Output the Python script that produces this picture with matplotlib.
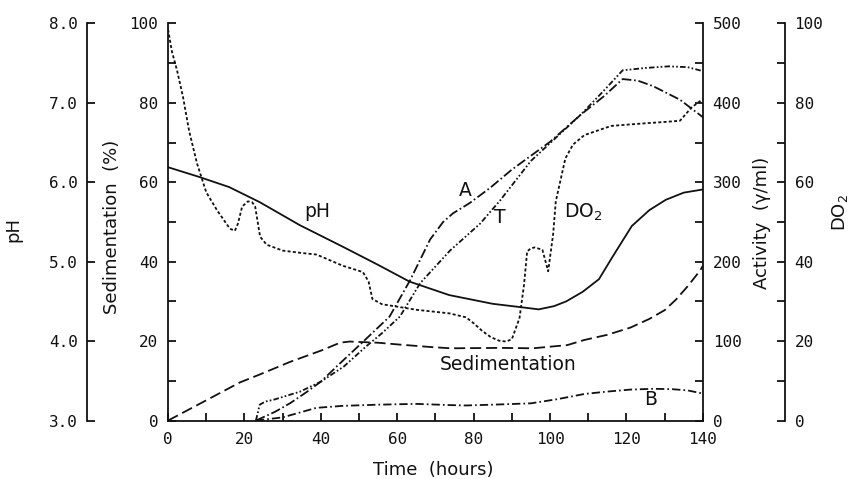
import matplotlib

matplotlib.use("Agg")
import matplotlib.pyplot as plt
from matplotlib.ticker import MultipleLocator, FormatStrFormatter


# time (hours) and values
PH_TIME = [0, 8, 16, 24, 34.5, 45.7, 55, 63.2, 73.6, 85, 93.7, 97, 101, 104.2,
           108.5, 112.8, 116.2, 121.4, 126, 130.3, 135, 140]
PH_VALUE = [6.19, 6.07, 5.94, 5.75, 5.46, 5.19, 4.96, 4.75, 4.58, 4.47, 4.42,
            4.40, 4.44, 4.50, 4.62, 4.78, 5.05, 5.45, 5.65, 5.78, 5.87, 5.91]

SED_TIME = [0, 10, 18.8, 24, 32, 40, 45, 47.5, 55, 61, 69, 74, 87, 95.5, 104.5,
            109, 115, 121, 126, 130, 133, 136, 139.3, 140]
SED_VALUE = [0, 5.1, 9.6, 11.6, 14.8, 17.6, 19.6, 19.9, 19.6, 19.1, 18.5, 18.2,
             18.3, 18.2, 19.0, 20.3, 21.6, 23.4, 25.6, 27.8, 30.5, 33.8, 37.8, 39.0]

DO2_TIME = [0, 1, 2.4, 3.9, 5.5, 7.6, 10, 12.8, 16.2, 17.5, 18.3, 19.4, 20.9,
            22.0, 22.8, 24.1, 25.8, 30, 35, 38.9, 45.7, 51, 52.5, 53.5, 56, 65,
            73.6, 78, 80, 82.2, 84.5, 86.7, 88.5, 90, 92, 93.2, 94, 95, 96, 98,
            99.5, 100.8, 101.5, 104, 106, 109, 116, 124, 130, 134, 137, 140]
DO2_VALUE = [98.5, 93, 88, 81.6, 73, 64.7, 57.5, 53, 48.3, 47.8, 49.6, 53.9,
             55.2, 55.0, 53.9, 46.3, 44.3, 42.8, 42.2, 41.8, 39.0, 37.4, 35,
             30.6, 29.3, 27.9, 27.0, 26.0, 24.5, 22.6, 21.0, 20.1, 19.9, 20.5,
             25.8, 34.3, 42.6, 43.4, 43.6, 43.0, 37.6, 46.9, 55.2, 66, 69.5,
             71.9, 74.2, 74.8, 75.2, 75.5, 78.8, 81]

A_TIME = [23, 28, 32, 36, 40, 45, 51, 58, 63.4, 68.6, 72, 74.6, 79, 84.3, 90,
          100, 108, 114, 119, 123, 127, 134, 140]
A_VALUE = [0, 11, 22, 35, 49, 72, 99, 131, 177, 228, 250, 261, 274, 293, 316,
           351, 385, 408, 430, 428, 421, 404, 382]

T_TIME = [23, 24, 25.5, 27.5, 34.6, 40, 46, 52, 56, 60.7, 66, 73.8, 81.7, 86.9,
          90.3, 95, 108, 114, 119, 125, 131, 136, 140]
T_VALUE = [0, 20, 24, 26, 36.5, 49, 68, 94, 110, 131, 173, 214, 248, 277, 298,
           327, 385, 415, 441, 444, 446, 445, 440]

B_TIME = [23, 30, 38.8, 45.7, 55, 65, 73.6, 78, 85, 95, 102, 109, 115, 121,
          127, 132, 136, 140]
B_VALUE = [0, 4, 16, 18.5, 20, 21, 19.5, 19, 20, 21.7, 27, 33.5, 36.5, 39,
           40, 39.5, 38, 34]

# curve labels, in time / sedimentation coordinates
CURVE_LABELS = [
    ("pH", 39, 52.6),
    ("A", 77.7, 58.0),
    ("T", 86.9, 51.1),
    ("DO$_2$", 108.6, 52.5),
    ("Sedimentation", 89, 14.2),
    ("B", 126.2, 5.3),
]

# axis titles: text, centre x/y in figure pixels, rotation
AXIS_TITLES = [
    ("pH", 13, 230, 90),
    ("Sedimentation  (%)", 112, 227, 90),
    ("Activity  (γ/ml)", 762, 223, 90),
    ("DO$_2$", 840, 213, 90),
    ("Time  (hours)", 433, 470, 0),
]

INK = "#111111"
TICK_FONT = "DejaVu Sans Mono"
TICK_SIZE = 11.5
FIG_W, FIG_H = 853, 479

plt.rcParams["font.family"] = ["DejaVu Sans"]
plt.rcParams["lines.scale_dashes"] = False
plt.rcParams["axes.linewidth"] = 1.3


def style_ticks(axis, side):
    axis.tick_params(axis="y", which="both", direction="in", width=1.3,
                     length=6, labelsize=TICK_SIZE, colors=INK, pad=7,
                     left=(side == "left"), labelleft=(side == "left"),
                     right=(side == "right"), labelright=(side == "right"))
    for label in axis.get_yticklabels():
        label.set_family(TICK_FONT)


fig = plt.figure(figsize=(FIG_W / 100, FIG_H / 100), dpi=100)
ax = fig.add_axes([0.197, 0.122, 0.627, 0.829])

ax_ph = ax.twinx()
ax_act = ax.twinx()
ax_do = ax.twinx()

for a in (ax, ax_ph, ax_act, ax_do):
    for side in ("top", "right", "left", "bottom"):
        a.spines[side].set_visible(False)
    a.patch.set_visible(False)

# sedimentation (main axis)
ax.spines["left"].set_visible(True)
ax.spines["bottom"].set_visible(True)
ax.set_xlim(0, 140)
ax.set_ylim(0, 100)
ax.xaxis.set_major_locator(MultipleLocator(20))
ax.xaxis.set_minor_locator(MultipleLocator(10))
ax.yaxis.set_major_locator(MultipleLocator(20))
ax.yaxis.set_minor_locator(MultipleLocator(10))
ax.tick_params(axis="x", which="both", direction="in", length=6, width=1.3,
               labelsize=TICK_SIZE, colors=INK, pad=8)
for label in ax.get_xticklabels():
    label.set_family(TICK_FONT)
ax.yaxis.set_ticks_position("left")
style_ticks(ax, "left")

# pH axis, further left
ax_ph.spines["left"].set_visible(True)
ax_ph.spines["left"].set_position(("outward", 58))
ax_ph.yaxis.set_ticks_position("left")
ax_ph.set_ylim(3.0, 8.0)
ax_ph.yaxis.set_major_locator(MultipleLocator(1.0))
ax_ph.yaxis.set_major_formatter(FormatStrFormatter("%.1f"))
style_ticks(ax_ph, "left")

# activity axis, right
ax_act.spines["right"].set_visible(True)
ax_act.set_ylim(0, 500)
ax_act.yaxis.set_major_locator(MultipleLocator(100))
ax_act.yaxis.set_minor_locator(MultipleLocator(50))
style_ticks(ax_act, "right")

# DO2 axis, further right
ax_do.spines["right"].set_visible(True)
ax_do.spines["right"].set_position(("outward", 59))
ax_do.set_ylim(0, 100)
ax_do.yaxis.set_major_locator(MultipleLocator(20))
ax_do.yaxis.set_minor_locator(MultipleLocator(10))
style_ticks(ax_do, "right")

for a in (ax, ax_ph, ax_act, ax_do):
    for spine in a.spines.values():
        spine.set_color(INK)

for text, px, py, rot in AXIS_TITLES:
    fig.text(px / FIG_W, 1 - py / FIG_H, text, fontsize=13, color=INK,
             rotation=rot, ha="center", va="center")

# curves
ax_ph.plot(PH_TIME, PH_VALUE, color=INK, lw=1.3, solid_joinstyle="round")
ax.plot(SED_TIME, SED_VALUE, color=INK, lw=1.3, dashes=(8, 3.5))
ax_do.plot(DO2_TIME, DO2_VALUE, color=INK, lw=1.3, dashes=(2.2, 1.6))
ax_act.plot(A_TIME, A_VALUE, color=INK, lw=1.3, dashes=(7, 2, 1.2, 2))
ax_act.plot(T_TIME, T_VALUE, color=INK, lw=1.3,
            dashes=(4, 1.6, 1.2, 1.6, 1.2, 1.6))
ax_act.plot(B_TIME, B_VALUE, color=INK, lw=1.3, dashes=(6, 2.2, 1.2, 2.2))

for text, x, y in CURVE_LABELS:
    ax_do.text(x, y, text, fontsize=13.5, color=INK, ha="center", va="center")

fig.savefig("out.png", dpi=100)
